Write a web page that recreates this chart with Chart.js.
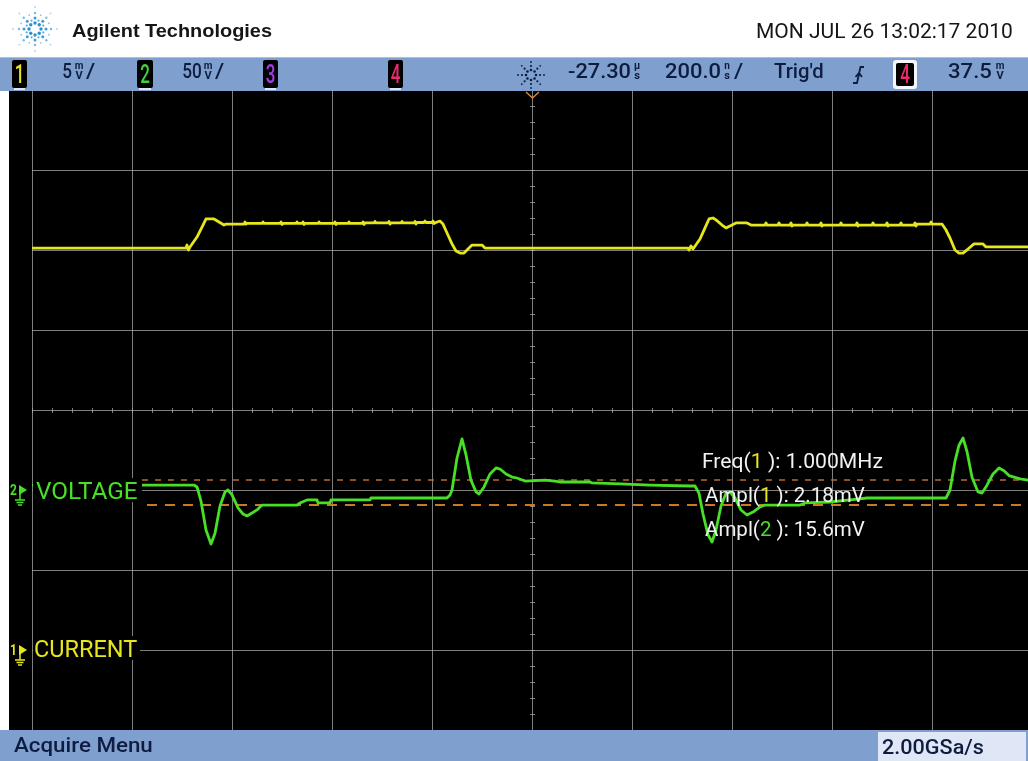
<!DOCTYPE html>
<html>
<head>
<meta charset="utf-8">
<script src="https://cdn.jsdelivr.net/npm/chart.js@4/dist/chart.umd.min.js"></script>
<style>
  html, body { margin: 0; padding: 0; background: #ffffff; }
  #wrap { position: relative; width: 1028px; height: 761px; overflow: hidden; }
  canvas { display: block; }
</style>
</head>
<body>
<div id="wrap"><canvas id="scope" width="1032" height="761" style="width:1032px;height:761px"></canvas></div>
<script>
// Time axis: ns from screen centre, 200 ns/div
const timeTicks = [-1000, -800, -600, -400, -200, 0, 200, 400, 600, 800, 1000];

// Channel 1 "CURRENT", 5 mV/div
const ch1Ticks = [-5, 0, 5, 10, 15, 20, 25, 30, 35];
const ch1Time = [
  -1000, -692, -690, -687, -684, -670, -658, -652, -636, -626, -616, -612,
  -576, -574, -572, -570, -540, -538, -536, -504, -502, -500, -498,
  -472, -470, -468, -460, -458, -456, -454, -428, -426, -424,
  -396, -394, -392, -390, -368, -366, -364, -340, -338, -336, -334,
  -316, -314, -312, -288, -286, -284, -282, -262, -260, -258,
  -236, -234, -232, -230, -216, -214, -212, -200, -198, -196, -190,
  -184, -178, -170, -160, -152, -144, -136, -128, -120, -100, -94,
  312, 314, 318, 322, 336, 346, 354, 362, 368, 380, 388, 396, 408, 430, 438,
  466, 468, 470, 492, 494, 496, 516, 518, 520, 522, 548, 550, 552,
  576, 578, 580, 582, 616, 618, 620, 648, 650, 652, 654, 680, 682, 684,
  708, 710, 712, 714, 736, 738, 740, 764, 766, 768, 770, 796, 798, 800,
  820, 828, 836, 846, 854, 862, 872, 884, 902, 908, 1000
];
const ch1Values = [
  25.12, 25.12, 25.31, 25.0, 25.19, 25.81, 26.56, 26.94, 26.94, 26.75, 26.56, 26.62,
  26.62, 26.75, 26.62, 26.66, 26.66, 26.75, 26.66, 26.66, 26.75, 26.6, 26.66,
  26.66, 26.75, 26.66, 26.66, 26.75, 26.6, 26.66, 26.66, 26.75, 26.66,
  26.66, 26.75, 26.6, 26.66, 26.66, 26.75, 26.66, 26.66, 26.75, 26.6, 26.69,
  26.69, 26.78, 26.69, 26.69, 26.78, 26.62, 26.69, 26.69, 26.78, 26.69,
  26.69, 26.78, 26.62, 26.72, 26.72, 26.81, 26.72, 26.72, 26.81, 26.66, 26.75,
  26.81, 26.62, 26.06, 25.38, 24.94, 24.81, 24.81, 25.06, 25.31, 25.31, 25.12,
  25.12, 25.0, 25.25, 25.06, 25.69, 26.38, 26.94, 27.0, 26.88, 26.56, 26.38, 26.5, 26.69, 26.69, 26.56,
  26.56, 26.69, 26.56, 26.56, 26.69, 26.56, 26.56, 26.69, 26.5, 26.56, 26.56, 26.69, 26.56,
  26.56, 26.69, 26.5, 26.56, 26.56, 26.69, 26.56, 26.56, 26.69, 26.5, 26.56, 26.56, 26.69, 26.56,
  26.56, 26.69, 26.5, 26.56, 26.56, 26.69, 26.56, 26.56, 26.69, 26.5, 26.62, 26.62, 26.75, 26.62,
  26.62, 26.25, 25.75, 25.0, 24.81, 24.81, 25.06, 25.38, 25.38, 25.19, 25.19
];

// Channel 2 "VOLTAGE", 50 mV/div
const ch2Range = [-150, 250];
const ch2Time = [
  -1000, -780, -676, -670, -662, -652, -642, -634, -624, -614, -608, -600,
  -588, -578, -570, -560, -548, -540, -470, -464, -450, -430, -428, -404,
  -402, -324, -322, -170, -164, -160, -150, -140, -132, -122, -112, -106,
  -96, -84, -72, -64, -52, -40, -30, -14, 26, 46, 56, 116,
  120, 176, 236, 316, 326, 334, 342, 352, 360, 368, 378, 388,
  396, 406, 418, 430, 442, 456, 466, 536, 546, 596, 636, 670,
  828, 836, 846, 854, 862, 870, 880, 892, 900, 910, 922, 934,
  944, 954, 964, 976, 992, 1000
];
const ch2Values = [
  3.1, 3.1, 3.1, 1.9, -7, -25, -33.8, -27, -10, -1.2, 0, -3.1,
  -11.2, -15, -16.2, -14.4, -11.9, -9.4, -9.4, -8.1, -6.2, -6.2, -8.1, -8.1,
  -6.2, -6.2, -5, -5, -3.1, 0, 20, 31.9, 22, 6, -1.2, -2.5,
  1.9, 10, 13.8, 13.1, 10, 8.1, 7.5, 5.6, 6.2, 5.6, 5.0, 5.0,
  4.4, 3.8, 3.1, 2.5, 2.5, -2, -15, -28, -32.5, -25, -10, -2,
  -1.2, -5, -12.5, -15.6, -13.8, -10.6, -9.4, -9.4, -8.1, -7.5, -6.2, -5,
  -5, 0, 18, 28, 32.5, 24, 8, -1.2, -1.9, 3, 10, 13.8,
  12, 9, 8.1, 7, 6.2, 6.2
];

// Amplitude markers on channel 2 (top and base levels)
const ampl2 = 15.6;
const ampl2Top = 6.25;
const ampl2Base = ampl2Top - ampl2;
const markerTopSpan = [-780, 1000];
const markerBaseSpan = [-770, 1000];

// On-screen text
const measurements = [
  ['Freq(', '1', ' ): 1.000MHz'],
  ['Ampl(', '1', ' ): 2.18mV'],
  ['Ampl(', '2', ' ): 15.6mV']
];
const ch1Name = 'CURRENT';
const ch2Name = 'VOLTAGE';
const dateText = 'MON JUL 26 13:02:17 2010';
const brandText = 'Agilent Technologies';
const menuText = 'Acquire Menu';
const rateText = '2.00GSa/s';

const YEL = '#e6e61c';
const GRN = '#48e026';
const NAVY = '#0e1c40';
const BAR = '#7fa0cf';
const GRID = 'rgba(175,175,175,0.72)';
const BARFONT = '500 21px Roboto';

function pts(xs, ys) { return xs.map((t, i) => ({ x: t, y: ys[i] })); }

function txt(ctx, s, x, base, font, color, sx) {
  ctx.save();
  ctx.font = font; ctx.fillStyle = color; ctx.textBaseline = 'alphabetic'; ctx.textAlign = 'left';
  ctx.translate(x, base); ctx.scale(sx || 1, 1);
  ctx.fillText(s, 0, 0);
  ctx.restore();
}
// text whose ink spans exactly [x, x+w]
function fitRuns(ctx, runs, x, base, w, font) {
  ctx.save();
  ctx.font = font; ctx.textBaseline = 'alphabetic'; ctx.textAlign = 'left';
  const full = runs.map(r => r[0]).join('');
  const m = ctx.measureText(full);
  const s = w / (m.actualBoundingBoxLeft + m.actualBoundingBoxRight);
  ctx.translate(x, base); ctx.scale(s, 1);
  let cx = m.actualBoundingBoxLeft;
  for (const [t, c] of runs) { ctx.fillStyle = c; ctx.fillText(t, cx, 0); cx += ctx.measureText(t).width; }
  ctx.restore();
}
function fit(ctx, s, x, base, w, font, color) { fitRuns(ctx, [[s, color]], x, base, w, font); }

// small unit stacked over a second unit, e.g. m over V
function stack(ctx, top, bottom, cx, color) {
  ctx.save();
  ctx.fillStyle = color; ctx.textAlign = 'center'; ctx.textBaseline = 'alphabetic';
  ctx.font = 'bold 10px Roboto';
  ctx.fillText(top, cx, 69);
  ctx.font = 'bold 11px Roboto';
  ctx.fillText(bottom, cx, 79);
  ctx.restore();
}

function chanBox(ctx, x, w, digit, color, outlined) {
  ctx.save();
  if (outlined) {
    ctx.fillStyle = '#f4f6fb';
    ctx.beginPath(); ctx.roundRect(x, 60, w, 29, 3); ctx.fill();
    ctx.fillStyle = '#000';
    ctx.beginPath(); ctx.roundRect(x + 3, 63, w - 6, 23, 2); ctx.fill();
  } else {
    ctx.fillStyle = '#000';
    ctx.beginPath(); ctx.roundRect(x, 60, w, 28, 2); ctx.fill();
    ctx.fillStyle = '#dfe4ee';
    ctx.fillRect(x + 2, 88, w - 4, 2);
  }
  ctx.font = '500 25px Roboto';
  const dw = ctx.measureText(digit).width * 0.68;
  txt(ctx, digit, x + (w - dw) / 2, 83, '500 25px Roboto', color, 0.68);
  ctx.restore();
}

function groundMark(ctx, gy, num, color) {
  ctx.save();
  ctx.fillStyle = color; ctx.strokeStyle = color; ctx.lineWidth = 1.5;
  txt(ctx, num, 10, gy + 5, 'bold 14px Roboto', color, 0.85);
  ctx.beginPath(); ctx.moveTo(19, gy - 5); ctx.lineTo(27, gy); ctx.lineTo(19, gy + 5); ctx.closePath(); ctx.fill();
  ctx.beginPath();
  ctx.moveTo(20, gy + 3); ctx.lineTo(20, gy + 10);
  ctx.moveTo(15, gy + 10); ctx.lineTo(25, gy + 10);
  ctx.moveTo(16.5, gy + 12.5); ctx.lineTo(23.5, gy + 12.5);
  ctx.moveTo(18, gy + 15); ctx.lineTo(22, gy + 15);
  ctx.stroke();
  ctx.restore();
}

function logo(ctx, cx, cy) {
  ctx.save();
  const rays = [[6, 1.7, '#2a8fd4'], [11, 1.5, '#3f9bd9'], [16, 1.2, '#77b9e6'], [22, 0.9, '#a7d2ef']];
  for (let k = 0; k < 8; k++) {
    const a = k * Math.PI / 4;
    rays.forEach(([r, s, c]) => {
      ctx.fillStyle = c;
      ctx.beginPath(); ctx.arc(cx + r * Math.cos(a), cy + r * Math.sin(a), s, 0, Math.PI * 2); ctx.fill();
    });
  }
  const mids = [[9, 1.1, '#5aa9df'], [15, 0.9, '#94c7ec']];
  for (let k = 0; k < 8; k++) {
    const a = k * Math.PI / 4 + Math.PI / 8;
    mids.forEach(([r, s, c]) => {
      ctx.fillStyle = c;
      ctx.beginPath(); ctx.arc(cx + r * Math.cos(a), cy + r * Math.sin(a), s, 0, Math.PI * 2); ctx.fill();
    });
  }
  ctx.restore();
}

function trigIcon(ctx, cx, cy) {
  ctx.save();
  ctx.fillStyle = NAVY;
  for (let k = 0; k < 8; k++) {
    const a = k * Math.PI / 4;
    [5, 9, 13].forEach((r, i) => {
      ctx.beginPath(); ctx.arc(cx + r * Math.cos(a), cy + r * Math.sin(a), [1.3, 1.1, 0.9][i], 0, Math.PI * 2); ctx.fill();
    });
  }
  ctx.restore();
}

const scopeFace = {
  id: 'scopeFace',
  beforeDraw(chart) {
    const ctx = chart.ctx;
    ctx.save();
    ctx.fillStyle = '#ffffff'; ctx.fillRect(0, 0, chart.width, chart.height);
    ctx.fillStyle = '#000000'; ctx.fillRect(9, 90, chart.width - 9, 641);
    ctx.restore();
  },
  beforeDatasetsDraw(chart) {
    const ctx = chart.ctx, x = chart.scales.x, y = chart.scales.y1;
    const xc = x.getPixelForValue(0), yc = y.getPixelForValue(15);
    ctx.save();
    ctx.strokeStyle = GRID; ctx.lineWidth = 1;
    ctx.beginPath();
    for (let t = -1000; t <= 1000; t += 40) {
      const px = Math.round(x.getPixelForValue(t)) + 0.5;
      ctx.moveTo(px, Math.round(yc) - 2); ctx.lineTo(px, Math.round(yc) + 3);
    }
    for (let v = -5; v <= 35; v += 1) {
      const py = Math.round(y.getPixelForValue(v)) + 0.5;
      ctx.moveTo(Math.round(xc) - 2, py); ctx.lineTo(Math.round(xc) + 3, py);
    }
    ctx.stroke();
    ctx.restore();
  },
  afterDatasetsDraw(chart) {
    const ctx = chart.ctx, x = chart.scales.x;
    const g1 = chart.scales.y1.getPixelForValue(0);
    const g2 = chart.scales.y2.getPixelForValue(0);

    // channel labels on black
    ctx.save();
    ctx.fillStyle = '#000';
    ctx.fillRect(33, g2 - 12, 109, 24);
    ctx.fillRect(33, g1 - 14, 107, 24);
    ctx.restore();
    fit(ctx, ch2Name, 36, g2 + 9, 101, '24px Roboto', GRN);
    fit(ctx, ch1Name, 35, g1 + 7, 102, '24px Roboto', YEL);
    groundMark(ctx, g2, '2', GRN);
    groundMark(ctx, g1, '1', YEL);

    // measurement readouts
    const mx = [703, 705, 705], mb = [468, 502, 536], mw = [180, 160, 160];
    measurements.forEach((m, i) => {
      const col = m[1] === '1' ? YEL : GRN;
      fitRuns(ctx, [[m[0], '#f2f2f2'], [m[1], col], [m[2], '#f2f2f2']], mx[i], mb[i], mw[i], '20px Roboto');
    });

    // header
    ctx.save();
    ctx.fillStyle = '#ffffff'; ctx.fillRect(0, 0, chart.width, 57);
    ctx.restore();
    logo(ctx, 35, 29);
    fit(ctx, brandText, 72, 37, 200, 'bold 18px "Liberation Sans"', '#151515');
    fit(ctx, dateText, 757, 38, 255, '21px Roboto', '#151515');

    // status bar
    ctx.save();
    ctx.fillStyle = BAR; ctx.fillRect(0, 57, chart.width, 34);
    ctx.fillStyle = 'rgba(255,255,255,0.35)'; ctx.fillRect(0, 57, chart.width, 1);
    ctx.restore();
    chanBox(ctx, 12, 15, '1', YEL, false);
    fit(ctx, '5', 63, 78, 9, BARFONT, NAVY);
    stack(ctx, 'm', 'V', 79, NAVY);
    fit(ctx, '/', 86, 78, 9, BARFONT, NAVY);
    chanBox(ctx, 137, 16, '2', '#3fd23a', false);
    fit(ctx, '50', 183, 78, 18, BARFONT, NAVY);
    stack(ctx, 'm', 'V', 208, NAVY);
    fit(ctx, '/', 215, 78, 9, BARFONT, NAVY);
    chanBox(ctx, 263, 15, '3', '#a63ae6', false);
    chanBox(ctx, 388, 15, '4', '#ec2a6e', false);
    trigIcon(ctx, 531, 75);
    fit(ctx, '-27.30', 568, 78, 62, BARFONT, NAVY);
    stack(ctx, 'μ', 's', 637, NAVY);
    fit(ctx, '200.0', 665, 78, 55, BARFONT, NAVY);
    stack(ctx, 'n', 's', 727, NAVY);
    fit(ctx, '/', 734, 78, 9, BARFONT, NAVY);
    fit(ctx, "Trig'd", 774, 78, 49, BARFONT, NAVY);
    ctx.save();
    ctx.strokeStyle = NAVY; ctx.lineWidth = 1.8;
    ctx.beginPath();
    ctx.moveTo(853, 83); ctx.lineTo(857, 83); ctx.lineTo(860.5, 67); ctx.lineTo(864, 67);
    ctx.moveTo(855.5, 77); ctx.lineTo(859, 73); ctx.lineTo(862, 77);
    ctx.stroke();
    ctx.restore();
    chanBox(ctx, 893, 24, '4', '#ec2a6e', true);
    fit(ctx, '37.5', 948, 78, 44, BARFONT, NAVY);
    stack(ctx, 'm', 'V', 1000, NAVY);

    // trigger position marker
    const tx = Math.round(x.getPixelForValue(0));
    ctx.save();
    ctx.strokeStyle = '#d98a2a'; ctx.lineWidth = 1.5;
    ctx.beginPath(); ctx.moveTo(tx - 6, 92); ctx.lineTo(tx + 0.5, 98); ctx.lineTo(tx + 7, 92); ctx.stroke();
    ctx.restore();

    // soft-key bar
    ctx.save();
    ctx.fillStyle = BAR; ctx.fillRect(0, 730, chart.width, 31);
    ctx.fillStyle = '#dfe6f5'; ctx.fillRect(878, 732, 148, 29);
    ctx.restore();
    fit(ctx, menuText, 14, 752, 138, BARFONT, NAVY);
    fit(ctx, rateText, 882, 754, 101, BARFONT, NAVY);
  }
};

new Chart(document.getElementById('scope'), {
  type: 'line',
  data: {
    datasets: [
      { label: ch1Name, data: pts(ch1Time, ch1Values), yAxisID: 'y1', borderColor: YEL, borderWidth: 2.8, borderJoinStyle: 'round', borderCapStyle: 'round', pointRadius: 0, tension: 0 },
      { label: ch2Name, data: pts(ch2Time, ch2Values), yAxisID: 'y2', borderColor: GRN, borderWidth: 2.8, borderJoinStyle: 'round', pointRadius: 0, tension: 0 },
      { label: 'top', data: pts(markerTopSpan, [ampl2Top, ampl2Top]), yAxisID: 'y2', borderColor: 'rgba(200,120,55,0.9)', borderWidth: 1.6, borderDash: [6, 7], pointRadius: 0 },
      { label: 'base', data: pts(markerBaseSpan, [ampl2Base, ampl2Base]), yAxisID: 'y2', borderColor: 'rgba(214,128,40,0.95)', borderWidth: 2, borderDash: [10, 8], pointRadius: 0 }
    ]
  },
  options: {
    responsive: false,
    animation: false,
    devicePixelRatio: 1,
    events: [],
    layout: { padding: { left: 32, top: 90, right: 0, bottom: 31 } },
    plugins: { legend: { display: false }, tooltip: { enabled: false } },
    scales: {
      x: {
        type: 'linear', min: timeTicks[0], max: timeTicks[timeTicks.length - 1],
        afterBuildTicks: s => { s.ticks = timeTicks.map(v => ({ value: v })); },
        ticks: { display: false }, border: { display: false },
        grid: { color: GRID, lineWidth: 1, drawTicks: false }
      },
      y1: {
        axis: 'y', position: 'left', min: ch1Ticks[0], max: ch1Ticks[ch1Ticks.length - 1],
        afterBuildTicks: s => { s.ticks = ch1Ticks.map(v => ({ value: v })); },
        ticks: { display: false }, border: { display: false },
        grid: { color: GRID, lineWidth: 1, drawTicks: false }
      },
      y2: { axis: 'y', display: false, min: ch2Range[0], max: ch2Range[1] }
    }
  },
  plugins: [scopeFace]
});
</script>
</body>
</html>
